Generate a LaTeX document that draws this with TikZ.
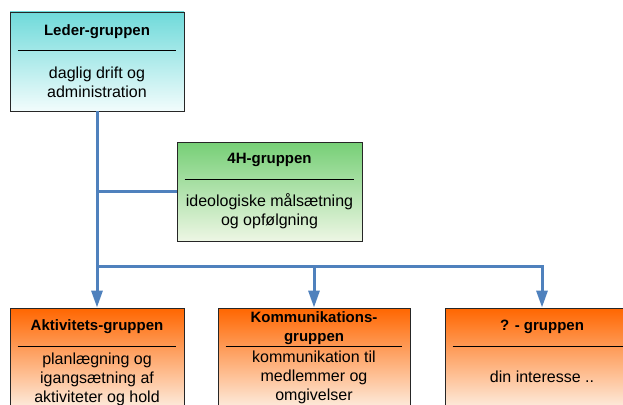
\documentclass[tikz,border=0pt]{standalone}
\usepackage{fontspec}
\setmainfont{Liberation Sans}
\usetikzlibrary{arrows.meta}

\definecolor{ledertop}{HTML}{6FDADA}
\definecolor{lederbund}{HTML}{F2FCFC}
\definecolor{groentop}{HTML}{76CF76}
\definecolor{groenbund}{HTML}{EDF6E4}
\definecolor{orangetop}{HTML}{FF6600}
\definecolor{orangebund}{HTML}{FDEBDC}
\definecolor{linjeblaa}{HTML}{4F81BD}

\tikzset{
  boks/.style={draw=black!85, line width=0.9pt, minimum width=174pt, minimum height=99pt, inner sep=0pt},
  orangeboks/.style={boks, top color=orangetop, bottom color=orangebund},
  titel/.style={font=\fontsize{15}{19}\selectfont\bfseries, align=center, inner sep=0pt},
  tekst/.style={font=\fontsize{16}{19}\selectfont, align=center, inner sep=0pt},
  streg/.style={line width=0.7pt},
  forbindelse/.style={draw=linjeblaa, line width=3pt},
  pil/.style={forbindelse, -{Triangle[width=11pt,length=17pt]}}
}

\begin{document}
\begin{tikzpicture}[x=1pt,y=1pt]
    \path[use as bounding box, clip] (0,0) rectangle (623,-404);

    % boxes
    \node[boks, top color=ledertop, bottom color=lederbund] (leder) at (97,-61.5) {};
    \node[boks, minimum width=185pt, top color=groentop, bottom color=groenbund] (fireh) at (269.5,-191.5) {};
    \node[orangeboks] (aktiv) at (97,-357.5) {};
    \node[orangeboks, minimum width=192pt] (komm) at (314,-357.5) {};
    \node[orangeboks, minimum width=194pt] (ukendt) at (542,-357.5) {};

    % leder-gruppen
    \node[titel] (ledertitel) at ([yshift=-20pt]leder.north) {Leder-gruppen};
    \draw[streg] ([xshift=8pt,yshift=-39pt]leder.north west) -- ([xshift=-8pt,yshift=-39pt]leder.north east);
    \node[tekst] (ledertekst) at ([yshift=-70.5pt]leder.north) {daglig drift og\\administration};

    % 4H-gruppen
    \node[titel] (firehtitel) at ([yshift=-18.5pt]fireh.north) {4H-gruppen};
    \draw[streg] ([xshift=8pt,yshift=-38pt]fireh.north west) -- ([xshift=-8pt,yshift=-38pt]fireh.north east);
    \node[tekst] (firehtekst) at ([yshift=-69.5pt]fireh.north) {ideologiske målsætning\\og opfølgning};

    % aktivitets-gruppen
    \node[titel] (aktivtitel) at ([yshift=-19.5pt]aktiv.north) {Aktivitets-gruppen};
    \draw[streg] ([xshift=8pt,yshift=-39pt]aktiv.north west) -- ([xshift=-8pt,yshift=-39pt]aktiv.north east);
    \node[tekst] (aktivtekst) at ([yshift=-72pt]aktiv.north) {planlægning og\\igangsætning af\\aktiviteter og hold};

    % kommunikations-gruppen
    \node[titel] (kommtitel) at ([yshift=-20.5pt]komm.north) {Kommunikations-\\gruppen};
    \draw[streg] ([xshift=8pt,yshift=-39pt]komm.north west) -- ([xshift=-8pt,yshift=-39pt]komm.north east);
    \node[tekst] (kommtekst) at ([yshift=-69.5pt]komm.north) {kommunikation til\\medlemmer og\\omgivelser};

    % ? - gruppen
    \node[titel] (ukendttitel) at ([yshift=-19pt]ukendt.north) {? - gruppen};
    \draw[streg] ([xshift=8pt,yshift=-39pt]ukendt.north west) -- ([xshift=-8pt,yshift=-39pt]ukendt.north east);
    \node[tekst] (ukendttekst) at ([yshift=-69pt]ukendt.north) {din interesse ..};

    % connectors
    \coordinate (grenfireh) at (leder.south |- fireh.west);
    \coordinate (grenbund) at (97,-266);
    \draw[pil] (leder.south) -- (aktiv.north);
    \draw[forbindelse] (grenfireh) -- (fireh.west);
    \draw[pil] (grenbund) -| (komm.north);
    \draw[pil] (grenbund) -| (ukendt.north);
\end{tikzpicture}
\end{document}
